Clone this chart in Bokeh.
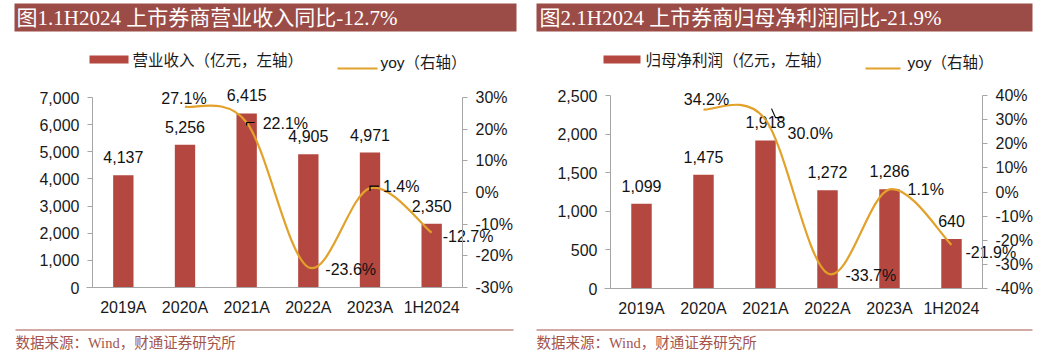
from bokeh.plotting import figure
from bokeh.models import (Range1d, LinearAxis, FixedTicker, NumeralTickFormatter,
                          PrintfTickFormatter, ColumnDataSource)
from bokeh.layouts import row
from bokeh.core.properties import value
from bokeh.embed import file_html
from bokeh.resources import INLINE

# ---------------- data ----------------
categories = ["2019A", "2020A", "2021A", "2022A", "2023A", "1H2024"]
revenue = [4137, 5256, 6415, 4905, 4971, 2350]
revenue_yoy = [None, 27.1, 22.1, -23.6, 1.4, -12.7]
profit = [1099, 1475, 1918, 1272, 1286, 640]
profit_yoy = [None, 34.2, 30.0, -33.7, 1.1, -21.9]

rev_left_ticks = [0, 1000, 2000, 3000, 4000, 5000, 6000, 7000]
rev_right_ticks = [-30, -20, -10, 0, 10, 20, 30]
pro_left_ticks = [0, 500, 1000, 1500, 2000, 2500]
pro_right_ticks = [-40, -30, -20, -10, 0, 10, 20, 30, 40]

title1 = "图1.1H2024 上市券商营业收入同比-12.7%"
title2 = "图2.1H2024 上市券商归母净利润同比-21.9%"
legend_bar1 = "营业收入（亿元，左轴）"
legend_bar2 = "归母净利润（亿元，左轴）"
legend_line = "yoy（右轴）"
source_text = "数据来源：Wind，财通证券研究所"

# ---------------- style ----------------
TITLE_BG = "#9b4c47"
BAR = "#b4473f"
LINE = "#e1a12a"
AXIS = "#a6a6a6"
SRC = "#a3544d"
SANS = "Liberation Sans, Noto Sans CJK SC"
SERIF = "Liberation Serif, Noto Sans CJK SC"
H = 359


def make_panel(W, x0p, title, legend_bar, vals, yoy, lticks, rticks, L):
    n = len(categories)
    fl, fr, ft, fb = L["fl"] - x0p, L["fr"] - x0p, L["ft"], L["fb"]
    ux = (fr - fl) / n                       # px per category
    uy = (fb - ft) / (lticks[-1] - lticks[0])  # px per left unit
    ur = (fb - ft) / (rticks[-1] - rticks[0])  # px per right unit
    xs0 = -0.5 - fl / ux
    ly0 = lticks[0] - (H - fb) / uy
    ry0 = rticks[0] - (H - fb) / ur

    def X(px):
        return xs0 + (px - x0p) / ux

    def Y(py):
        return ly0 + (H - py) / uy

    ch = figure(width=W, height=H, x_range=Range1d(xs0, xs0 + W / ux),
                y_range=Range1d(ly0, ly0 + H / uy), toolbar_location=None,
                output_backend="svg", min_border=0, outline_line_color=None)
    ch.title.visible = False
    ch.grid.visible = False
    ch.extra_y_ranges = {"yoy": Range1d(ry0, ry0 + H / ur)}

    lax = ch.yaxis[0]
    lax.ticker = FixedTicker(ticks=lticks)
    lax.formatter = NumeralTickFormatter(format="0,0")
    lax.fixed_location = -0.5
    lax.bounds = (lticks[0], lticks[-1])
    rax = LinearAxis(y_range_name="yoy", ticker=FixedTicker(ticks=rticks),
                     formatter=PrintfTickFormatter(format="%d%%"),
                     fixed_location=n - 0.5, bounds=(rticks[0], rticks[-1]))
    ch.add_layout(rax, "right")
    for ax in (lax, rax):
        ax.axis_line_color = AXIS
        ax.major_tick_line_color = AXIS
        ax.minor_tick_line_color = None
        ax.major_tick_in = 0
        ax.major_tick_out = 5
        ax.major_label_standoff = 8
    xa = ch.xaxis[0]
    xa.ticker = FixedTicker(ticks=list(range(n)))
    xa.major_label_overrides = {i: c for i, c in enumerate(categories)}
    xa.fixed_location = lticks[0]
    xa.bounds = (-0.5 - 6 / ux, n - 0.5)
    xa.axis_line_color = AXIS
    xa.major_tick_line_color = None
    xa.minor_tick_line_color = None
    xa.major_tick_in = 0
    xa.major_tick_out = 0
    xa.major_label_standoff = 11
    for ax in (lax, rax, xa):
        ax.major_label_text_font = "Liberation Sans"
        ax.major_label_text_font_size = "16px"
        ax.major_label_text_color = "#1a1a1a"

    idx = list(range(n))
    ch.vbar(x=idx, top=vals, bottom=lticks[0], width=0.33, fill_color=BAR, line_color=None)
    ch.text(x=idx, y=vals, text=[f"{v:,}" for v in vals], text_align="center",
            text_baseline="middle", y_offset=-18, text_font=value("Liberation Sans"),
            text_font_size="16px", text_color="#111111")

    # smoothed yoy line (cubic Bezier through the data points)
    pts = [(i, v) for i, v in enumerate(yoy) if v is not None]
    bx0, by0, bx1, by1, cx0, cy0, cx1, cy1 = ([] for _ in range(8))
    for k in range(len(pts) - 1):
        pm = pts[k - 1] if k > 0 else pts[k]
        p0, p1 = pts[k], pts[k + 1]
        p2 = pts[k + 2] if k + 2 < len(pts) else pts[k + 1]
        bx0.append(p0[0]); by0.append(p0[1]); bx1.append(p1[0]); by1.append(p1[1])
        cx0.append(p0[0] + (p1[0] - pm[0]) / 6); cy0.append(p0[1] + (p1[1] - pm[1]) / 6)
        cx1.append(p1[0] - (p2[0] - p0[0]) / 6); cy1.append(p1[1] - (p2[1] - p0[1]) / 6)
    ch.bezier(x0=bx0, y0=by0, x1=bx1, y1=by1, cx0=cx0, cy0=cy0, cx1=cx1, cy1=cy1,
              line_color=LINE, line_width=2.2, y_range_name="yoy")

    # yoy labels
    for align in ("center", "left"):
        xs, ys, ts, dxs, dys = [], [], [], [], []
        for (i, v), (dx, dy, al) in zip(pts, L["yoy_off"]):
            if al != align:
                continue
            xs.append(i); ys.append(v); ts.append(f"{v:.1f}%"); dxs.append(dx); dys.append(dy)
        src = ColumnDataSource(dict(x=xs, y=ys, t=ts, dx=dxs, dy=dys))
        ch.text(x="x", y="y", text="t", x_offset="dx", y_offset="dy", source=src,
                text_align=align, text_baseline="middle", y_range_name="yoy",
                text_font=value("Liberation Sans"), text_font_size="16px",
                text_color="#111111")

    # leader lines (pixel offsets from the labelled point)
    mx, my = [], []
    for i, poly in L["leaders"]:
        v = yoy[i]
        mx.append([i + dx / ux for dx, dy in poly])
        my.append([v - dy / ur for dx, dy in poly])
    if mx:
        ch.multi_line(xs=mx, ys=my, line_color="black", line_width=1.2, y_range_name="yoy")

    # ---- header: title bar and legend ----
    ch.quad(left=[X(L["bar"][0])], right=[X(L["bar"][1])], top=[Y(3)], bottom=[Y(31)],
            fill_color=TITLE_BG, line_color=None)
    ch.text(x=[X(L["title_x"])], y=[Y(17)], text=[title], text_color="white",
            text_font=value(SERIF), text_font_size="21px",
            text_baseline="middle", text_align="left")
    ch.quad(left=[X(L["sw"][0])], right=[X(L["sw"][1])], top=[Y(55)], bottom=[Y(63)],
            fill_color=BAR, line_color=None)
    ch.text(x=[X(L["lt_x"])], y=[Y(60)], text=[legend_bar], text_color="#1a1a1a",
            text_font=value(SANS), text_font_size="15.5px",
            text_baseline="middle", text_align="left")
    ch.line(x=[X(L["ln"][0]), X(L["ln"][1])], y=[Y(68), Y(68)], line_color=LINE, line_width=2)
    ch.text(x=[X(L["yt_x"])], y=[Y(62)], text=[legend_line], text_color="#1a1a1a",
            text_font=value(SANS), text_font_size="15.5px",
            text_baseline="middle", text_align="left")

    # ---- footer: divider and source ----
    ch.line(x=[X(L["div"][0]), X(L["div"][1])], y=[Y(329.5), Y(329.5)],
            line_color=SRC, line_width=1)
    ch.text(x=[X(L["div"][0])], y=[Y(342)], text=[source_text], text_color=SRC,
            text_font=value(SERIF), text_font_size="14.5px",
            text_baseline="middle", text_align="left")
    return ch


# page-pixel layout of each panel
L1 = dict(fl=92, fr=462, ft=97, fb=287,
          bar=(14, 516), title_x=16, sw=(89, 128), lt_x=132, ln=(337, 377), yt_x=380,
          div=(15, 513),
          yoy_off=[(-1, -8, "center"), (16, 1, "left"), (17, 2, "left"),
                   (13, -2, "left"), (11, 4, "left")],
          leaders=[(2, [(0, 3), (0, 0), (8, 0)]), (4, [(0, 3), (0, -2), (9, -2)])])
L2 = dict(fl=610, fr=982, ft=95, fb=288,
          bar=(536, 1032), title_x=539, sw=(603, 640), lt_x=645, ln=(865, 900), yt_x=907,
          div=(536, 1032),
          yoy_off=[(3, -10, "center"), (22, 14, "left"), (18, 2, "left"),
                   (18, 0, "left"), (14, 8, "left")],
          leaders=[(2, [(6, -11), (10, -2), (17, -2)])])

p1 = make_panel(520, 0, title1, legend_bar1, revenue, revenue_yoy,
                rev_left_ticks, rev_right_ticks, L1)
p2 = make_panel(525, 520, title2, legend_bar2, profit, profit_yoy,
                pro_left_ticks, pro_right_ticks, L2)
p = row(p1, p2, spacing=0)

open("out.html", "w").write(file_html(p, INLINE))
